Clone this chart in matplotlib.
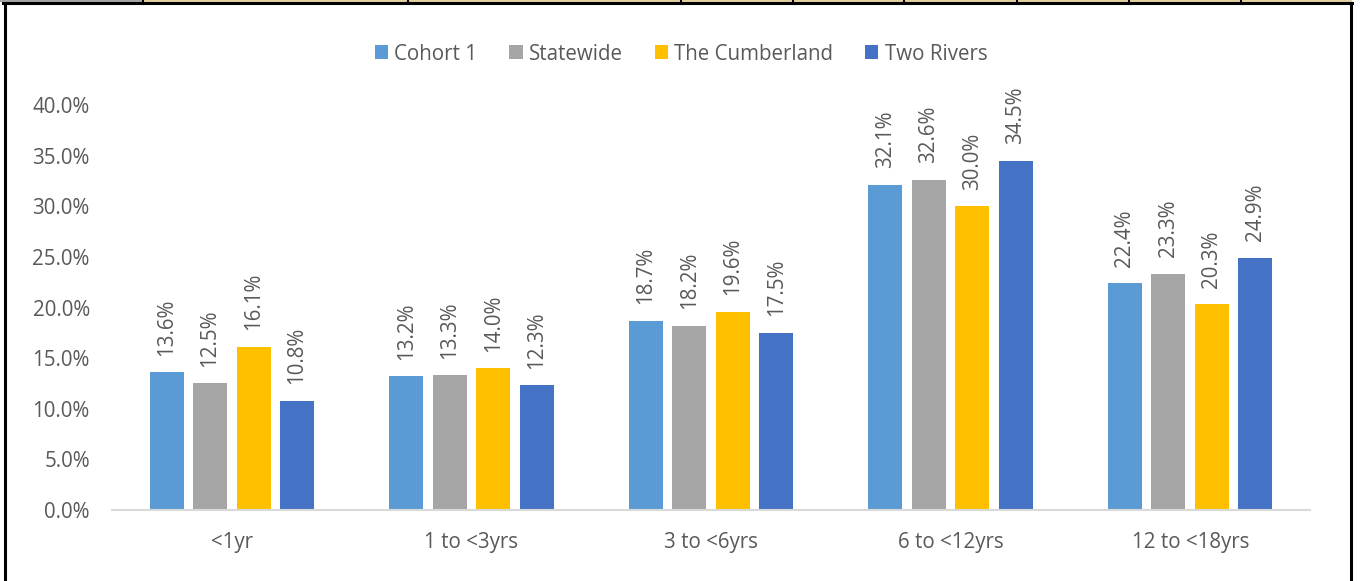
import matplotlib
matplotlib.use("Agg")
import matplotlib.pyplot as plt
import numpy as np
from matplotlib.patches import Rectangle, Patch
from matplotlib.lines import Line2D

categories = ["<1yr", "1 to <3yrs", "3 to <6yrs", "6 to <12yrs", "12 to <18yrs"]
series_names = ["Cohort 1", "Statewide", "The Cumberland", "Two Rivers"]
cohort1 = [13.6, 13.2, 18.7, 32.1, 22.4]
statewide = [12.5, 13.3, 18.2, 32.6, 23.3]
cumberland = [16.1, 14.0, 19.6, 30.0, 20.3]
two_rivers = [10.8, 12.3, 17.5, 34.5, 24.9]
yticks = [0, 5, 10, 15, 20, 25, 30, 35, 40]

colors = ["#5B9BD5", "#A5A5A5", "#FFC000", "#4472C4"]
txt = "#595959"
FONT = ["Open Sans", "DejaVu Sans"]
FS = 14.8

plt.rcParams['font.family'] = FONT

W, H = 1361, 581
fig = plt.figure(figsize=(W / 100, H / 100), dpi=100)
ax = fig.add_axes([112 / W, 1 - 510 / H, (1310 - 112) / W, (510 - 105) / H])

data = [cohort1, statewide, cumberland, two_rivers]
x = np.arange(len(categories))
step = 0.1816
bw = 0.142
for i, (vals, c) in enumerate(zip(data, colors)):
    pos = x + (i - 1.5) * step
    bars = ax.bar(pos, vals, width=bw, color=c, edgecolor="none", zorder=2)
    for b, v in zip(bars, vals):
        ax.annotate(f"{v:.1f}%", (b.get_x() + b.get_width() / 2, v),
                    xytext=(0, 12), textcoords="offset points",
                    rotation=90, ha="center", va="bottom",
                    fontsize=FS, color=txt, annotation_clip=False)

ax.set_xlim(-0.5, len(categories) - 0.5)
ax.set_ylim(0, 40)
ax.set_yticks(yticks)
ax.set_yticklabels([f"{t:.1f}%" for t in yticks])
ax.set_xticks(x)
ax.set_xticklabels(categories)
ax.tick_params(axis="both", length=0, labelsize=FS, labelcolor=txt)
ax.tick_params(axis="x", pad=16)
ax.tick_params(axis="y", pad=16)
for s in ["top", "right", "left"]:
    ax.spines[s].set_visible(False)
ax.spines["bottom"].set_color("#D9D9D9")
ax.spines["bottom"].set_linewidth(1.5)
ax.spines["bottom"].set_zorder(3)

handles = [Patch(facecolor=c, edgecolor="none") for c in colors]
fig.legend(handles, series_names, loc="center", bbox_to_anchor=(681 / W, 1 - 54 / H),
           ncol=4, frameon=False, fontsize=FS, labelcolor=txt,
           handlelength=0.65, handleheight=0.65, handletextpad=0.3,
           columnspacing=1.55)

# outer frame and clipped table strip at top
def fx(px):
    return px / W

def fy(py):
    return 1 - py / H

fig.add_artist(Rectangle((0, fy(2)), fx(143), 2 / H, transform=fig.transFigure,
                         facecolor="#A6A6A6", edgecolor="none"))
fig.add_artist(Rectangle((fx(143), fy(2)), fx(1352 - 143), 2 / H, transform=fig.transFigure,
                         facecolor="#E3CFA0", edgecolor="none"))
for sx in [143, 408, 681, 793, 904, 1017, 1129, 1241]:
    fig.add_artist(Line2D([fx(sx), fx(sx)], [fy(0), fy(4)], transform=fig.transFigure,
                          color="black", lw=1.5))
fig.add_artist(Line2D([fx(3), fx(1352)], [fy(3), fy(3)], transform=fig.transFigure,
                      color="black", lw=2.2))
fig.add_artist(Line2D([fx(4.5), fx(4.5)], [fy(3), fy(581)], transform=fig.transFigure,
                      color="black", lw=2.2))
fig.add_artist(Line2D([fx(1351), fx(1351)], [fy(3), fy(581)], transform=fig.transFigure,
                      color="black", lw=2.2))

fig.savefig("out.png", dpi=100, facecolor="white")
